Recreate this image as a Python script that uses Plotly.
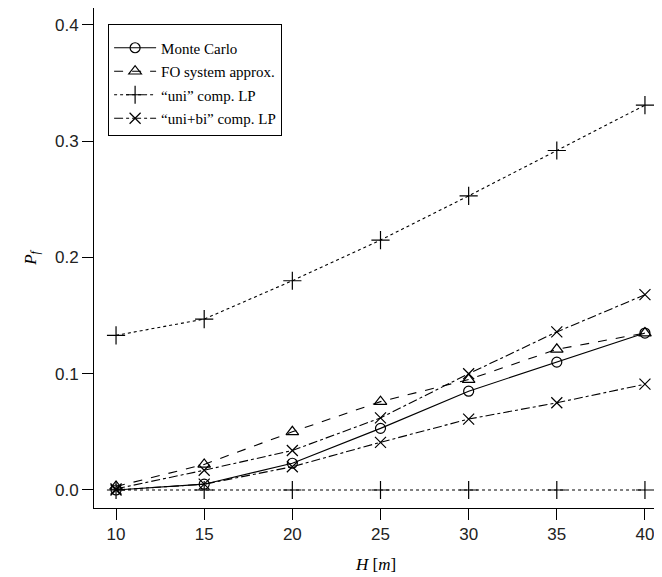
import plotly.graph_objects as go

H = [10, 15, 20, 25, 30, 35, 40]
monte_carlo = [0.0, 0.005, 0.023, 0.053, 0.085, 0.110, 0.135]
fo_system = [0.003, 0.022, 0.050, 0.076, 0.095, 0.121, 0.135]
uni_upper = [0.133, 0.147, 0.180, 0.215, 0.253, 0.292, 0.331]
uni_lower = [0.0, 0.0, 0.0, 0.0, 0.0, 0.0, 0.0]
unibi_upper = [0.001, 0.017, 0.034, 0.062, 0.100, 0.136, 0.168]
unibi_lower = [0.0, 0.005, 0.020, 0.041, 0.061, 0.075, 0.091]
y_ticks = [0.0, 0.1, 0.2, 0.3, 0.4]

fig = go.Figure()
lw = 1.1
def add(y, name, dash, symbol, show=True, group=None, size=10):
    fig.add_trace(go.Scatter(
        x=H, y=y, name=name, mode="lines+markers",
        line=dict(color="black", width=lw, dash=dash),
        marker=dict(symbol=symbol, size=size, color="black",
                    line=dict(color="black", width=1.2)),
        showlegend=show, legendgroup=group or name))

add(monte_carlo, "Monte Carlo", "solid", "circle-open")
add(fo_system, "FO system approx.", "dash", "triangle-up-open", size=11)
add(uni_upper, "\u201cuni\u201d comp. LP", "dot", "cross-thin-open", group="uni", size=13)
add(uni_lower, "\u201cuni\u201d comp. LP", "dot", "cross-thin-open", show=False, group="uni", size=13)
add(unibi_upper, "\u201cuni+bi\u201d comp. LP", "dashdot", "x-thin-open", group="unibi", size=11)
add(unibi_lower, "\u201cuni+bi\u201d comp. LP", "dashdot", "x-thin-open", show=False, group="unibi", size=11)

axis_common = dict(showline=True, linecolor="black", linewidth=1, mirror=True,
                   ticks="outside", ticklen=11, tickcolor="black", tickwidth=1,
                   showgrid=False, zeroline=False,
                   tickfont=dict(family="Liberation Sans, Arial", size=17, color="#222"))

fig.update_layout(
    width=654, height=569,
    margin=dict(l=86, r=4, t=0, b=69),
    plot_bgcolor="white", paper_bgcolor="white",
    xaxis=dict(range=[8.75, 40.74], tickvals=H,
               title=dict(text="<i>H</i> [<i>m</i>]", standoff=14,
                          font=dict(family="Liberation Serif, Times New Roman", size=17, color="black")),
               **axis_common),
    yaxis=dict(range=[-0.0155, 0.4146], tickvals=y_ticks, tickformat=".1f",
               title=dict(text="<i>P<sub>f</sub></i>", standoff=14,
                          font=dict(family="Liberation Serif, Times New Roman", size=17, color="black")),
               **axis_common),
    legend=dict(x=0.025, y=0.968, xanchor="left", yanchor="top",
                bordercolor="black", borderwidth=1, bgcolor="white",
                font=dict(family="Liberation Serif, Times New Roman", size=15, color="black"),
                title=dict(text="&nbsp;", font=dict(size=5)),
                itemwidth=42, tracegroupgap=1),
    showlegend=True,
)

fig.write_html("out.html")
